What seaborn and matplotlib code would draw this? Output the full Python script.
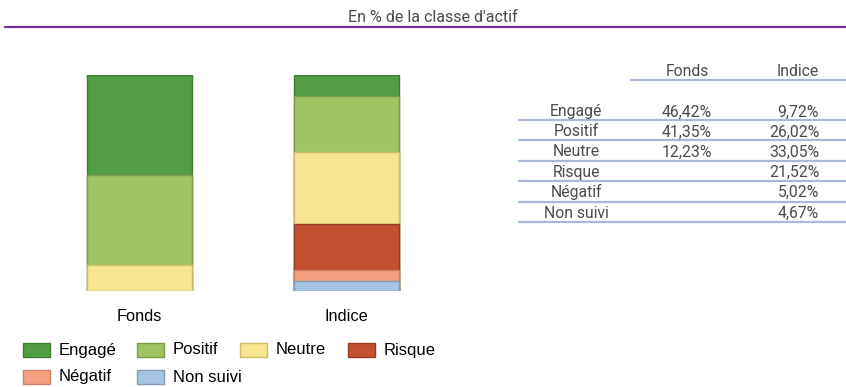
import matplotlib
matplotlib.use("Agg")
import matplotlib.pyplot as plt
from matplotlib.patches import Rectangle
from matplotlib.lines import Line2D
import seaborn as sns
import pandas as pd

# Data
supports = ["Fonds", "Indice"]
categories = ["Engagé", "Positif", "Neutre", "Risque", "Négatif", "Non suivi"]
fonds = [46.42, 41.35, 12.23, None, None, None]
indice = [9.72, 26.02, 33.05, 21.52, 5.02, 4.67]
fonds_labels = ["46,42%", "41,35%", "12,23%", "", "", ""]
indice_labels = ["9,72%", "26,02%", "33,05%", "21,52%", "5,02%", "4,67%"]

fills = ["#529E42", "#A1C462", "#F5E68F", "#C3502E", "#F4A07F", "#A8C4E0"]
edges = ["#3E7D30", "#7F9B4C", "#CDBE70", "#983B20", "#CB8164", "#7F9CBA"]

W, H = 846, 387
sns.set_theme(style="white")
plt.rcParams["font.family"] = ["Liberation Sans", "DejaVu Sans"]

fig = plt.figure(figsize=(W / 100, H / 100), dpi=100)


def fx(px):
    return px / W


def fy(py):
    return 1 - py / H


# Title and rule
fig.text(fx(433), fy(17), "En % de la classe d'actif", ha="center", va="center",
         fontsize=11.5, family="Roboto", fontweight="normal", color="#4a4a4a")
fig.add_artist(Line2D([fx(5), fx(846)], [fy(27), fy(27)], color="#7030A0", lw=1.6))

# Stacked bars: draw cumulative totals from the top layer down
ax = fig.add_axes([fx(36), fy(291), fx(414), (291 - 75) / H])
values = pd.DataFrame([fonds, indice], index=supports, columns=categories).astype(float)
bottom_up = categories[::-1]
cum = values[bottom_up].fillna(0).cumsum(axis=1)
for i, cat in enumerate(categories):
    tops = cum[cat].where(values[cat].notna())
    layer = pd.DataFrame({"support": supports, "value": tops.values})
    sns.barplot(data=layer, x="support", y="value", order=supports, color=fills[i],
                edgecolor=edges[i], linewidth=1.0, width=0.507, saturation=1,
                ax=ax)

ax.set_xlim(-0.5, 1.5)
ax.set_ylim(0, 100)
ax.set_xlabel("")
ax.set_ylabel("")
ax.set_yticks([])
ax.tick_params(axis="x", length=0, pad=13)
for lab in ax.get_xticklabels():
    lab.set_fontsize(11.8)
    lab.set_fontweight("normal")
    lab.set_color("#000000")
for s in ax.spines.values():
    s.set_visible(False)

# Table
tab_font = dict(fontsize=11.3, family="Roboto", fontweight="normal", color="#4a4a4a")
fig.text(fx(687), fy(71), "Fonds", ha="center", va="center", **tab_font)
fig.text(fx(798), fy(71), "Indice", ha="center", va="center", **tab_font)
fig.add_artist(Line2D([fx(631), fx(846)], [fy(80), fy(80)], color="#A9B8D8", lw=1.6))
row_y = [112, 132, 152, 172, 192, 213]
line_y = [120, 140, 161, 181, 202, 222]
for i, cat in enumerate(categories):
    fig.text(fx(576), fy(row_y[i]), cat, ha="center", va="center", **tab_font)
    fig.text(fx(712), fy(row_y[i]), fonds_labels[i], ha="right", va="center", **tab_font)
    fig.text(fx(819), fy(row_y[i]), indice_labels[i], ha="right", va="center", **tab_font)
    fig.add_artist(Line2D([fx(519), fx(846)], [fy(line_y[i]), fy(line_y[i])],
                          color="#A9B8D8", lw=1.6))

# Legend: swatch + label, two rows
leg_x = [23, 137, 240, 348, 23, 137]
leg_y = [350, 350, 350, 350, 377, 377]
for i, cat in enumerate(categories):
    fig.add_artist(Rectangle((fx(leg_x[i]), fy(leg_y[i] + 7)), fx(27), 14 / H,
                             facecolor=fills[i], edgecolor=edges[i], linewidth=1.0))
    fig.text(fx(leg_x[i] + 36), fy(leg_y[i]), cat, ha="left", va="center",
             fontsize=12, color="#000000")

fig.savefig("out.png", dpi=100)
